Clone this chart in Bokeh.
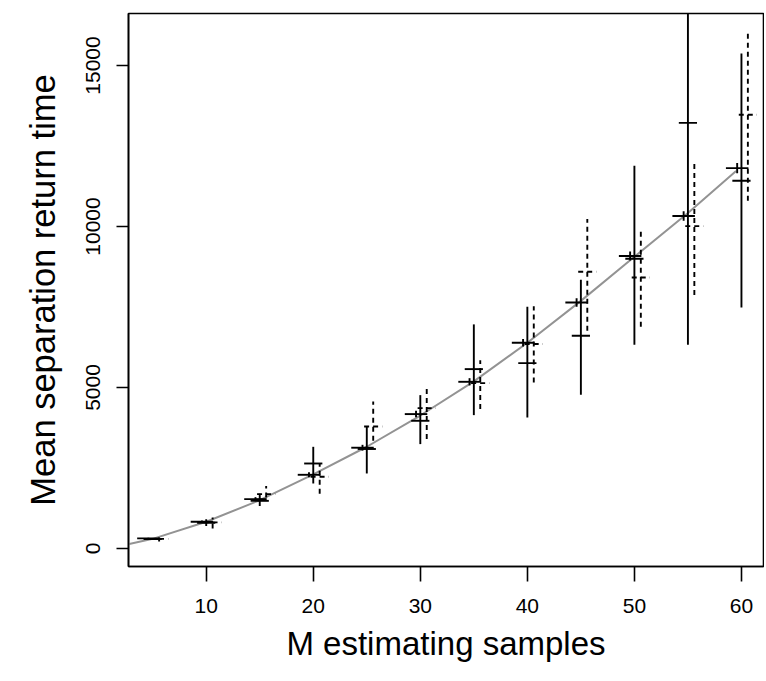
from bokeh.plotting import figure
from bokeh.models import Range1d, FixedTicker
from bokeh.embed import file_html
from bokeh.resources import INLINE

# ---- data ----
M = [5, 10, 15, 20, 25, 30, 35, 40, 45, 50, 55, 60]

# estimator A (solid, wide interval)
a_mid = [295, 800, 1480, 2640, 3090, 3966, 5571, 5757, 6606, 9000, 13217, 11419]
a_lo = [270, 700, 1320, 2019, 2330, 3242, 4142, 4068, 4773, 6326, 6326, 7485]
a_hi = [325, 910, 1700, 3158, 3789, 4763, 6960, 7506, 8345, 11885, 17500, 15376]

# estimator B (solid, narrow interval, on the curve)
b_mid = [315, 830, 1534, 2289, 3130, 4174, 5177, 6388, 7640, 9084, 10326, 11813]
b_lo = [295, 790, 1475, 2210, 3040, 4075, 5065, 6270, 7510, 8945, 10175, 11650]
b_hi = [335, 870, 1595, 2370, 3220, 4275, 5290, 6505, 7770, 9225, 10475, 11975]

# estimator C (dashed)
c_mid = [300, 810, 1690, 2230, 3789, 4360, 5136, 6350, 8593, 8416, 10012, 13470]
c_lo = [220, 620, 1580, 1700, 3345, 3397, 4329, 5155, 6761, 6885, 7870, 10800]
c_hi = [345, 960, 1940, 2650, 4565, 4981, 5850, 7520, 10230, 9845, 12060, 15986]

# smooth reference curve
curve_x = [2.7, 5, 10, 15, 20, 25, 30, 35, 40, 45, 50, 55, 59.5]
curve_y = [130, 300, 830, 1500, 2300, 3160, 4130, 5190, 6390, 7690, 9060, 10420, 11720]

x_ticks = [10, 20, 30, 40, 50, 60]
y_ticks = [0, 5000, 10000, 15000]

FONT = "Liberation Sans"

p = figure(width=764, height=681, output_backend="svg", toolbar_location=None,
           x_range=Range1d(2.74, 62.06), y_range=Range1d(-559, 16615),
           min_border_left=128, min_border_right=1, min_border_top=13,
           min_border_bottom=115)
p.background_fill_color = "white"
p.border_fill_color = "white"
p.outline_line_color = "black"
p.outline_line_width = 1.6
p.xgrid.visible = False
p.ygrid.visible = False

p.line(curve_x, curve_y, line_color="#939393", line_width=2)

LW = 1.9
blk = "black"

# A
p.segment(x0=M, x1=M, y0=a_lo, y1=a_hi, line_color=blk, line_width=LW)
p.segment(x0=[m - 0.85 for m in M], x1=[m + 0.85 for m in M], y0=a_mid, y1=a_mid,
          line_color=blk, line_width=LW)
# B
p.segment(x0=[m - 0.4 for m in M], x1=[m - 0.4 for m in M], y0=b_lo, y1=b_hi,
          line_color=blk, line_width=LW)
p.segment(x0=[m - 1.45 for m in M], x1=[m + 0.65 for m in M], y0=b_mid, y1=b_mid,
          line_color=blk, line_width=LW)
# C dashed
p.segment(x0=[m + 0.6 for m in M], x1=[m + 0.6 for m in M], y0=c_lo, y1=c_hi,
          line_color=blk, line_width=LW, line_dash="5 4")
p.segment(x0=[m - 0.25 for m in M], x1=[m + 1.45 for m in M], y0=c_mid, y1=c_mid,
          line_color=blk, line_width=LW, line_dash="5 4")

for ax in (p.xaxis[0], p.yaxis[0]):
    ax.axis_line_color = "black"
    ax.axis_line_width = 1.6
    ax.major_tick_line_color = "black"
    ax.major_tick_line_width = 1.6
    ax.major_tick_in = 0
    ax.minor_tick_line_color = None
    ax.major_label_text_font = FONT
    ax.major_label_text_font_size = "21px"
    ax.major_label_text_color = "black"
    ax.axis_label_text_font = FONT
    ax.axis_label_text_font_style = "normal"
    ax.axis_label_text_color = "black"

p.xaxis.axis_label_text_font_size = "33px"
p.yaxis.axis_label_text_font_size = "34.5px"
p.xaxis.ticker = FixedTicker(ticks=x_ticks)
p.yaxis.ticker = FixedTicker(ticks=y_ticks)
p.xaxis.major_tick_out = 15
p.yaxis.major_tick_out = 12
p.xaxis.major_label_standoff = 17
p.yaxis.major_label_standoff = 16
p.yaxis.major_label_orientation = "vertical"
p.xaxis.axis_label = "M estimating samples"
p.yaxis.axis_label = "Mean separation return time"
p.xaxis.axis_label_standoff = 9
p.yaxis.axis_label_standoff = 22

open("out.html", "w").write(file_html(p, INLINE))
